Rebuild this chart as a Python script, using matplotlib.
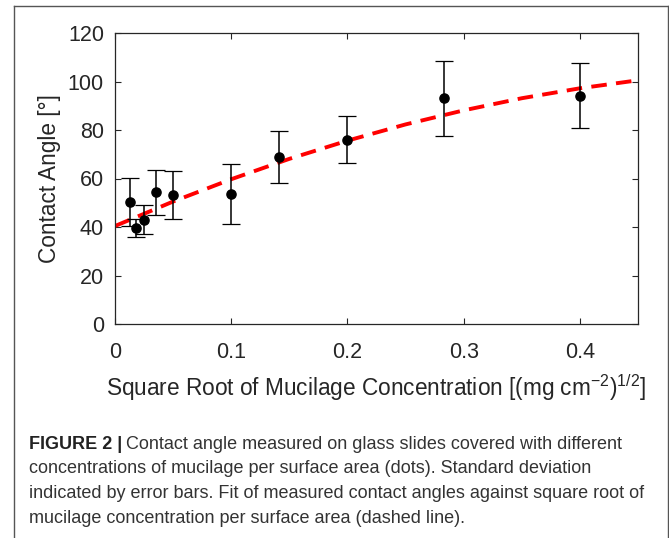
import numpy as np
import matplotlib
matplotlib.use("Agg")
import matplotlib.pyplot as plt
from matplotlib.lines import Line2D

# square root of mucilage concentration per surface area
sqrt_conc = [0.0125, 0.0177, 0.025, 0.0354, 0.05, 0.1, 0.1414, 0.2, 0.2828, 0.4]
# mean contact angle and standard deviation (deg)
angle = [50.4, 39.7, 43.0, 54.3, 53.2, 53.6, 68.9, 76.0, 93.1, 94.2]
angle_sd = [9.8, 3.7, 6.0, 9.2, 10.0, 12.5, 10.8, 9.7, 15.5, 13.4]

# fitted curve
fit_x = [0, 0.05, 0.1, 0.15, 0.2, 0.25, 0.3, 0.35, 0.4, 0.45]
fit_y = [40.4, 50.5, 59.7, 68.1, 75.6, 82.3, 88.1, 93.1, 97.2, 100.5]

x_ticks = [0, 0.1, 0.2, 0.3, 0.4]
y_ticks = [0, 20, 40, 60, 80, 100, 120]

caption_bold = "FIGURE 2 |"
caption_lines = [
    "Contact angle measured on glass slides covered with different",
    "concentrations of mucilage per surface area (dots). Standard deviation",
    "indicated by error bars. Fit of measured contact angles against square root of",
    "mucilage concentration per surface area (dashed line).",
]

plt.rcParams["font.family"] = ["Liberation Sans", "DejaVu Sans"]
plt.rcParams["mathtext.fontset"] = "custom"
plt.rcParams["mathtext.rm"] = "Liberation Sans"
plt.rcParams["mathtext.it"] = "Liberation Sans"

W, H = 669, 538
fig = plt.figure(figsize=(W / 100, H / 100), dpi=100)
ax = fig.add_axes([115 / W, 1 - 324 / H, (638 - 115) / W, (324 - 33) / H])

axis_col = "#262626"

ax.plot(fit_x, fit_y, color="red", lw=2.8, dashes=(4, 2.4), zorder=2)

eb = ax.errorbar(sqrt_conc, angle, yerr=angle_sd, fmt="o", color="black",
                 markersize=6.6, ecolor="black", elinewidth=1.1,
                 capsize=6.5, capthick=0.9, zorder=3)
for cap in eb[1]:
    cap.set_color("#8c8c8c")

ax.set_xlim(0, 0.45)
ax.set_ylim(0, 120)
ax.set_xticks(x_ticks)
ax.set_xticklabels(["0", "0.1", "0.2", "0.3", "0.4"])
ax.set_yticks(y_ticks)

ax.tick_params(direction="in", length=4, width=0.8, color=axis_col,
               labelsize=15.5, labelcolor=axis_col, top=True, right=True)
ax.tick_params(axis="x", pad=13)
ax.tick_params(axis="y", pad=8)
for sp in ax.spines.values():
    sp.set_color(axis_col)
    sp.set_linewidth(0.9)

ax.set_ylabel("Contact Angle [°]", fontsize=16.3, color=axis_col, labelpad=5)
ax.set_xlabel("Square Root of Mucilage Concentration [(mg cm$^{\\mathrm{-2}}$)$^{\\mathrm{1/2}}$]",
              fontsize=16.3, color=axis_col, labelpad=7)

# frame around figure + caption
border = "#555555"
fig.add_artist(Line2D([14 / W, 14 / W], [0, 1 - 6 / H], transform=fig.transFigure,
                      color=border, lw=1))
fig.add_artist(Line2D([14 / W, 667.5 / W], [1 - 6 / H, 1 - 6 / H], transform=fig.transFigure,
                      color=border, lw=1))
fig.add_artist(Line2D([667.5 / W, 667.5 / W], [0, 1 - 6 / H], transform=fig.transFigure,
                      color=border, lw=1))

cap_size = 13
cap_col = "#333333"
baselines = [449, 473, 498, 523]
bt = fig.text(29 / W, 1 - baselines[0] / H, caption_bold, fontsize=cap_size,
              fontweight="bold", color="#222222", va="baseline", ha="left")
fig.canvas.draw()
bb = bt.get_window_extent()
fig.text((bb.x1 + 4) / W, 1 - baselines[0] / H, caption_lines[0], fontsize=cap_size,
         color=cap_col, va="baseline", ha="left")
for line, yb in zip(caption_lines[1:], baselines[1:]):
    fig.text(29 / W, 1 - yb / H, line, fontsize=cap_size, color=cap_col,
             va="baseline", ha="left")

fig.savefig("out.png", dpi=100)
